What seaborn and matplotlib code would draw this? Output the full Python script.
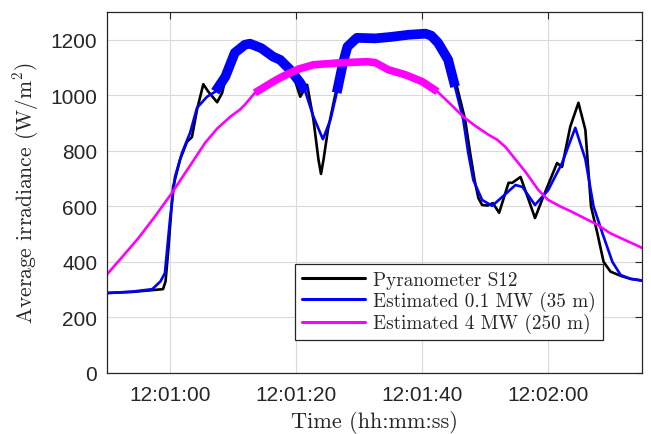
import numpy as np
import pandas as pd
import matplotlib
matplotlib.use("Agg")
import matplotlib.pyplot as plt
import seaborn as sns

# ---------------- data (seconds after 12:00:00) ----------------
t_pyr = [50, 54, 57, 58.9, 59.3, 59.7, 60.5, 61.6, 62.7, 63.5, 64.3, 65.3, 66.1, 67.5,
         68.3, 68.8, 70.3, 71.9, 72.7, 74.5, 76.4, 79.1, 80.7, 81.8, 82.8, 83.6, 84.0,
         84.4, 85.1, 86.2, 87.5, 88.2, 89.7, 92.6, 95, 97.9, 100.6, 101.5, 102.6, 104.2,
         105.6, 106.9, 107.7, 108.4, 109.0, 109.6, 110.5, 111.3, 112.3, 113.8, 114.4,
         115.7, 117.0, 118.0, 119.3, 121.5, 122.3, 123.6, 124.9, 126.0, 126.9, 127.9,
         128.9, 130.0, 131.6, 133.2, 135]
v_pyr = [288, 292, 298, 302, 330, 432, 670, 768, 832, 850, 948, 1040, 1013, 975,
         1009, 1060, 1153, 1182, 1186, 1170, 1139, 1108, 995, 1038, 912, 768, 717,
         768, 876, 995, 1117, 1175, 1207, 1205, 1210, 1218, 1222, 1215, 1189, 1128,
         1031, 912, 792, 695, 630, 605, 603, 612, 577, 685, 685,
         706, 623, 558, 634, 756, 742, 887, 973, 876, 600, 504,
         400, 365, 350, 339, 333]

t_est1 = [50, 54, 57.2, 58.5, 59.2, 60, 60.8, 61.9, 63.2, 64.3, 65.9, 67.2, 68.8, 70.3,
          71.9, 72.7, 74.5, 76.4, 77.5, 79.1, 80.7, 81.5, 82.8, 84.3, 85.5, 86.5, 87.5,
          88.2, 89.7, 92.6, 95, 97.9, 100.6, 101.5, 102.6, 104.2, 105.3, 106.6, 107.4,
          108.2, 109.6, 111.2, 112.8, 114.9, 116.0, 118.0, 120.1, 122.3, 124.4, 126.0,
          127.3, 128.7, 130.3, 131.6, 133.2, 135]
v_est1 = [288, 293, 302, 330, 360, 551, 706, 792, 865, 955, 995, 1013, 1067, 1153,
          1182, 1186, 1170, 1139, 1128, 1092, 1045, 1014, 923, 842, 912, 1009, 1117,
          1175, 1207, 1205, 1210, 1218, 1222, 1215, 1189, 1128, 1031, 912, 792,
          695, 623, 602, 634, 677, 670, 605, 659, 756, 883, 770,
          600, 504, 400, 353, 339, 333]

t_est4 = [50, 52.5, 55, 57.5, 60.3, 63, 65.6, 67.5, 69.6, 71.1, 71.9, 73.5, 76.4, 77.5,
          79.1, 80.5, 82.8, 87, 91.3, 92.6, 94.7, 97.4, 100.1, 102.5, 104.5, 106.6,
          108.5, 110.6, 112, 113.3, 116.5, 118.5, 120.1, 122, 123.9, 128, 129.9, 131.6,
          134.7, 135]
v_est4 = [355, 420, 486, 560, 648, 740, 829, 880, 923, 948, 966, 1009, 1049, 1063,
          1081, 1095, 1110, 1117, 1121, 1118, 1092, 1074, 1049, 1013, 970, 923,
          890, 858, 840, 814, 724, 660, 623, 600, 580, 533, 504, 486,
          454, 450]

series_names = ["Pyranometer S12", "Estimated 0.1 MW (35 m)", "Estimated 4 MW (250 m)"]
series_colors = ["#000000", "#0000FF", "#FF00FF"]
x_tick_values = [60, 80, 100, 120]
x_tick_labels = ["12:01:00", "12:01:20", "12:01:40", "12:02:00"]
y_tick_values = [0, 200, 400, 600, 800, 1000, 1200]
highlight_threshold = 1000

# ---------------- build frame ----------------
df = pd.concat([
    pd.DataFrame({"time": t_pyr, "value": v_pyr, "series": series_names[0]}),
    pd.DataFrame({"time": t_est1, "value": v_est1, "series": series_names[1]}),
    pd.DataFrame({"time": t_est4, "value": v_est4, "series": series_names[2]}),
], ignore_index=True)

sns.set_style("white")
plt.rcParams["mathtext.fontset"] = "cm"

fig = plt.figure(figsize=(6.51, 4.35), dpi=100)
ax = fig.add_axes([107 / 651, 1 - 374 / 435, 535 / 651, 361 / 435])

sns.lineplot(data=df, x="time", y="value", hue="series", hue_order=series_names,
             palette=dict(zip(series_names, series_colors)), linewidth=1.9,
             estimator=None, sort=False, legend=False, ax=ax)
for i, ln in enumerate(ax.lines[:3]):
    ln.set_zorder(2 + 0.1 * i)
    ln.set_solid_joinstyle("round")

# thick overlay where estimate exceeds threshold
for tt, vv, col, lw, z in [(t_est1, v_est1, series_colors[1], 7.0, 2.5),
                           (t_est4, v_est4, series_colors[2], 5.5, 2.6)]:
    vv = np.asarray(vv, dtype=float)
    ax.plot(tt, np.where(vv >= highlight_threshold, vv, np.nan), color=col, lw=lw,
            solid_capstyle="butt", solid_joinstyle="round", zorder=z)

ax.set_xlim(50, 135)
ax.set_ylim(0, 1300)
ax.set_xticks(x_tick_values)
ax.set_xticklabels(x_tick_labels)
ax.set_yticks(y_tick_values)
ax.grid(True, color="#dadada", linewidth=0.8)
ax.set_axisbelow(True)

ax.tick_params(direction="in", top=True, right=True, length=5, width=0.8,
               colors="#262626", labelsize=15)
ax.tick_params(axis="x", pad=9)
ax.tick_params(axis="y", pad=7)
for lab in ax.get_xticklabels() + ax.get_yticklabels():
    lab.set_family("Liberation Sans")
for sp in ax.spines.values():
    sp.set_visible(True)
    sp.set_color("#262626")
    sp.set_linewidth(0.9)

ax.set_xlabel("Time (hh:mm:ss)", family="cmr10", fontsize=16, labelpad=4)
ax.set_ylabel(r"Average irradiance (W/m$^{2}$)", family="cmr10", fontsize=15.5, labelpad=7)

leg = ax.legend(handles=ax.lines[:3], labels=series_names, loc="lower right",
                bbox_to_anchor=(0.927, 0.091), prop={"family": "cmr10", "size": 13.8},
                frameon=True, fancybox=False, framealpha=1, edgecolor="#262626",
                borderaxespad=0, handlelength=3.3, handletextpad=0.45,
                labelspacing=0.12, borderpad=0.35)
leg.get_frame().set_linewidth(0.9)
for h in leg.get_lines():
    h.set_linewidth(2.2)

fig.savefig("out.png", dpi=100)
